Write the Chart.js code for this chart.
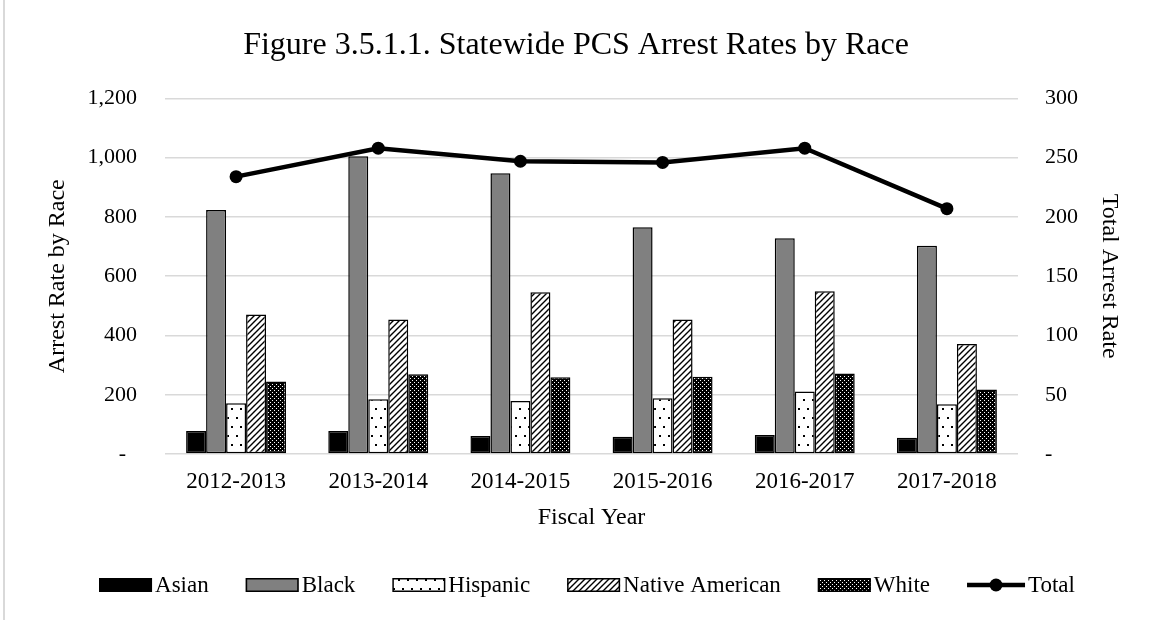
<!DOCTYPE html>
<html>
<head>
<meta charset="utf-8">
<title>Statewide PCS Arrest Rates by Race</title>
<script src="https://cdn.jsdelivr.net/npm/chart.js@4/dist/chart.umd.min.js"></script>
<style>
  html, body { margin: 0; padding: 0; background: #fff; }
  #wrap { width: 1152px; height: 620px; position: relative; }
</style>
</head>
<body>
<div id="wrap"><canvas id="arrestChart" width="1152" height="620"></canvas></div>
<script>
// Fiscal years and arrest rates per 100,000
const fiscalYears = ['2012-2013', '2013-2014', '2014-2015', '2015-2016', '2016-2017', '2017-2018'];
const asianRates = [78, 78, 61, 58, 64, 55];
const blackRates = [823, 1005, 947, 765, 728, 703];
const hispanicRates = [171, 185, 179, 188, 211, 168];
const nativeAmericanRates = [471, 454, 546, 454, 549, 371];
const whiteRates = [245, 269, 259, 261, 272, 218];
const totalRates = [234, 258, 247, 246, 258, 207];

const FONT = "'Liberation Serif', 'Times New Roman', serif";

// Small tile canvases used as fill patterns
function makePattern(w, h, draw) {
  const c = document.createElement('canvas');
  c.width = w;
  c.height = h;
  const g = c.getContext('2d');
  g.fillStyle = '#fff';
  g.fillRect(0, 0, w, h);
  draw(g);
  return g.createPattern(c, 'repeat');
}

const dotPattern = makePattern(9, 18, (g) => {
  g.fillStyle = '#000';
  g.fillRect(2, 3, 2, 2);
  g.fillRect(6, 12, 2, 2);
});

const stripePattern = makePattern(6, 6, (g) => {
  g.strokeStyle = '#000';
  g.lineWidth = 1.4;
  g.beginPath();
  g.moveTo(-1, 7);
  g.lineTo(7, -1);
  g.moveTo(-1, 1);
  g.lineTo(1, -1);
  g.moveTo(5, 7);
  g.lineTo(7, 5);
  g.stroke();
});

const checkerPattern = makePattern(4, 4, (g) => {
  g.fillStyle = '#000';
  g.fillRect(0, 0, 4, 4);
  g.fillStyle = '#fff';
  g.fillRect(0, 0, 1, 1);
  g.fillRect(2, 2, 1, 1);
});

function barSet(label, data, fill) {
  return {
    type: 'bar',
    label: label,
    data: data,
    backgroundColor: fill,
    borderColor: '#000',
    borderWidth: 1.5,
    borderSkipped: false,
    categoryPercentage: 0.703,
    barPercentage: 1,
    yAxisID: 'y',
    order: 1,
  };
}

// Legend drawn along the bottom: bar swatches plus a line-with-marker for Total
const bottomLegend = {
  id: 'bottomLegend',
  afterDraw(chart) {
    const ctx = chart.ctx;
    const y = 585;
    const boxW = 53;
    const boxH = 14;
    const textGap = 3;
    const itemGap = 37;
    ctx.save();
    ctx.font = '23px ' + FONT;
    ctx.textBaseline = 'middle';
    ctx.textAlign = 'left';

    const items = chart.data.datasets.map((ds) => ({
      ds: ds,
      textW: ctx.measureText(ds.label).width,
    }));
    let total = 0;
    items.forEach((it, i) => {
      total += (it.ds.type === 'line' ? 58 : boxW) + textGap + it.textW;
      if (i < items.length - 1) total += itemGap;
    });

    let x = 587 - total / 2;
    items.forEach((it) => {
      const ds = it.ds;
      if (ds.type === 'line') {
        ctx.strokeStyle = '#000';
        ctx.lineWidth = 4.5;
        ctx.beginPath();
        ctx.moveTo(x, y);
        ctx.lineTo(x + 58, y);
        ctx.stroke();
        ctx.fillStyle = '#000';
        ctx.beginPath();
        ctx.arc(x + 29, y, 6.5, 0, Math.PI * 2);
        ctx.fill();
        x += 58;
      } else {
        ctx.fillStyle = ds.backgroundColor;
        ctx.fillRect(x, y - boxH / 2, boxW, boxH);
        ctx.strokeStyle = '#000';
        ctx.lineWidth = 1.5;
        ctx.strokeRect(x + 0.75, y - boxH / 2 + 0.75, boxW - 1.5, boxH - 1.5);
        x += boxW;
      }
      x += textGap;
      ctx.fillStyle = '#000';
      ctx.fillText(ds.label, x, y + 1);
      x += it.textW + itemGap;
    });

    // thin frame on the left side of the chart
    ctx.strokeStyle = '#d9d9d9';
    ctx.lineWidth = 2;
    ctx.beginPath();
    ctx.moveTo(4, 0);
    ctx.lineTo(4, 620);
    ctx.stroke();
    ctx.restore();
  },
};

new Chart(document.getElementById('arrestChart'), {
  data: {
    labels: fiscalYears,
    datasets: [
      barSet('Asian', asianRates, '#000'),
      barSet('Black', blackRates, '#808080'),
      barSet('Hispanic', hispanicRates, dotPattern),
      barSet('Native American', nativeAmericanRates, stripePattern),
      barSet('White', whiteRates, checkerPattern),
      {
        type: 'line',
        label: 'Total',
        data: totalRates,
        borderColor: '#000',
        borderWidth: 4.5,
        pointRadius: 6.5,
        pointBackgroundColor: '#000',
        pointBorderColor: '#000',
        pointBorderWidth: 0,
        tension: 0,
        yAxisID: 'y1',
        order: 0,
      },
    ],
  },
  options: {
    responsive: false,
    animation: false,
    layout: { padding: { top: 0, right: 0, bottom: 76, left: 0 } },
    plugins: {
      legend: { display: false },
      tooltip: { enabled: false },
      title: {
        display: true,
        text: 'Figure 3.5.1.1. Statewide PCS Arrest Rates by Race',
        color: '#000',
        font: { family: FONT, size: 32, weight: 'normal' },
        padding: { top: 26, bottom: 34 },
      },
    },
    scales: {
      x: {
        grid: { display: false, drawTicks: false },
        border: { display: false },
        ticks: { color: '#000', font: { family: FONT, size: 23 }, padding: 14 },
        title: {
          display: true,
          text: 'Fiscal Year',
          color: '#000',
          font: { family: FONT, size: 24 },
          padding: { top: 0, bottom: 12 },
        },
        afterFit(scale) { scale.height = 90; },
      },
      y: {
        position: 'left',
        min: 0,
        max: 1200,
        grid: { color: '#d9d9d9', lineWidth: 1.5, drawTicks: false },
        border: { display: false },
        ticks: {
          stepSize: 200,
          color: '#000',
          padding: 28,
          font: { family: FONT, size: 22 },
          callback: (v) => (v === 0 ? '-  ' : v.toLocaleString('en-US')),
        },
        title: {
          display: true,
          text: 'Arrest Rate by Race',
          color: '#000',
          font: { family: FONT, size: 24 },
          padding: { top: 43, bottom: 0 },
        },
        afterFit(scale) { scale.width = 165; },
      },
      y1: {
        position: 'right',
        min: 0,
        max: 300,
        grid: { display: false, drawTicks: false },
        border: { display: false },
        ticks: {
          stepSize: 50,
          color: '#000',
          padding: 27,
          font: { family: FONT, size: 22 },
          callback: (v) => (v === 0 ? '-' : v),
        },
        title: {
          display: true,
          text: 'Total Arrest Rate',
          color: '#000',
          font: { family: FONT, size: 24 },
          padding: { top: 28, bottom: 0 },
        },
        afterFit(scale) { scale.width = 134; },
      },
    },
  },
  plugins: [bottomLegend],
});
</script>
</body>
</html>
